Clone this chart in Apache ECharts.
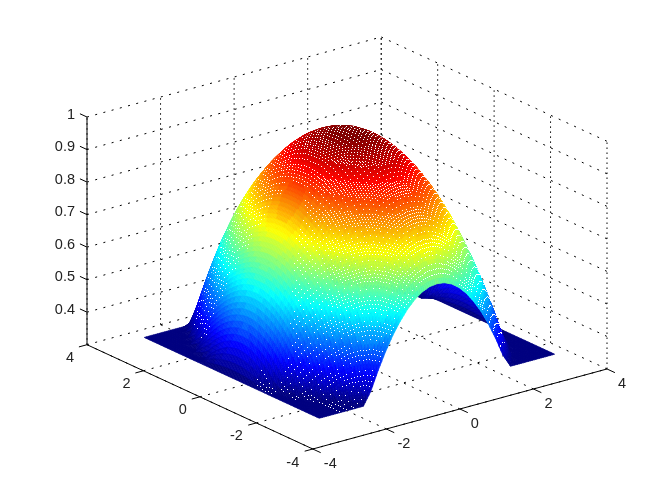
<!DOCTYPE html>
<html><head><meta charset="utf-8"><style>html,body{margin:0;background:#fff}#c{width:672px;height:504px}</style>
<script src="https://cdn.jsdelivr.net/npm/echarts@6/dist/echarts.min.js"></script></head><body><div id="c"></div>
<script>
var xTicks=[-4,-2,0,2,4], yTicks=[-4,-2,0,2,4], zTicks=[0.4,0.5,0.6,0.7,0.8,0.9,1];
var xs=[-2.75,-2.55,-2.35,-2.15,-1.95,-1.75,-1.55,-1.35,-1.15,-0.95,-0.75,-0.55,-0.35,-0.15,0.05,0.25,0.45,0.65,0.85,1.05,1.25,1.45,1.65,1.85,2.05,2.25,2.45,2.65,2.85,3.05,3.25,3.45,3.65];
var ys=[-2.6,-2.406,-2.213,-2.019,-1.825,-1.631,-1.438,-1.244,-1.05,-0.856,-0.663,-0.469,-0.275,-0.081,0.113,0.306,0.5,0.694,0.888,1.081,1.275,1.469,1.663,1.856,2.05,2.244,2.438,2.631,2.825,3.019,3.213,3.406,3.6];
// surface heights in thousandths, one row per ys value, one column per xs value
var zRows=[
[300,300,300,300,300,300,300,339,397,448,493,530,561,585,602,612,615,612,602,585,561,530,493,448,397,339,300,300,300,300,300,300,300],
[300,300,300,300,300,300,336,399,456,505,549,585,615,638,655,665,668,665,655,638,615,585,549,505,456,399,336,300,300,300,300,300,300],
[300,300,300,300,300,324,391,452,507,556,597,633,662,684,700,710,713,710,700,684,662,633,597,556,507,452,391,324,300,300,300,300,300],
[300,300,300,300,301,373,438,498,551,598,639,673,702,724,739,749,752,749,739,724,702,673,639,598,551,498,438,373,301,300,300,300,300],
[300,300,300,300,344,414,478,536,588,634,674,707,735,756,771,781,784,781,771,756,735,707,674,634,588,536,478,414,344,300,300,300,300],
[300,300,300,309,383,452,514,571,621,666,705,738,764,785,800,809,812,809,800,785,764,738,705,666,621,571,514,452,383,309,300,300,300],
[300,300,300,346,419,486,547,602,652,695,733,765,792,812,826,835,838,835,826,812,792,765,733,695,652,602,547,486,419,346,300,300,300],
[300,300,303,380,451,517,577,631,679,722,759,790,816,836,850,859,862,859,850,836,816,790,759,722,679,631,577,517,451,380,303,300,300],
[300,300,335,410,480,545,603,656,704,746,782,813,838,858,872,880,883,880,872,858,838,813,782,746,704,656,603,545,480,410,335,300,300],
[300,300,363,437,506,569,627,679,726,767,802,833,857,877,890,899,901,899,890,877,857,833,802,767,726,679,627,569,506,437,363,300,300],
[300,309,387,460,528,590,647,698,744,785,820,850,874,893,907,915,917,915,907,893,874,850,820,785,744,698,647,590,528,460,387,309,300],
[300,331,408,480,547,608,664,715,760,800,835,864,888,907,920,928,931,928,920,907,888,864,835,800,760,715,664,608,547,480,408,331,300],
[300,348,425,496,562,623,678,728,773,813,847,876,900,918,932,940,942,940,932,918,900,876,847,813,773,728,678,623,562,496,425,348,300],
[300,362,438,509,574,634,689,739,783,823,857,885,909,927,940,948,951,948,940,927,909,885,857,823,783,739,689,634,574,509,438,362,300],
[300,372,447,517,583,642,697,746,791,830,863,892,915,934,947,954,957,954,947,934,915,892,863,830,791,746,697,642,583,517,447,372,300],
[300,378,453,523,588,647,702,751,795,834,867,896,919,937,950,958,961,958,950,937,919,896,867,834,795,751,702,647,588,523,453,378,300],
[300,380,455,525,589,649,703,752,796,835,869,897,921,939,952,959,962,959,952,939,921,897,869,835,796,752,703,649,589,525,455,380,300],
[300,378,453,523,588,647,702,751,795,834,867,896,919,937,950,958,961,958,950,937,919,896,867,834,795,751,702,647,588,523,453,378,300],
[300,372,447,517,583,642,697,746,791,830,863,892,915,934,947,954,957,954,947,934,915,892,863,830,791,746,697,642,583,517,447,372,300],
[300,362,438,509,574,634,689,739,783,823,857,885,909,927,940,948,951,948,940,927,909,885,857,823,783,739,689,634,574,509,438,362,300],
[300,348,425,496,562,623,678,728,773,813,847,876,900,918,932,940,942,940,932,918,900,876,847,813,773,728,678,623,562,496,425,348,300],
[300,331,408,480,547,608,664,715,760,800,835,864,888,907,920,928,931,928,920,907,888,864,835,800,760,715,664,608,547,480,408,331,300],
[300,309,387,460,528,590,647,698,744,785,820,850,874,893,907,915,917,915,907,893,874,850,820,785,744,698,647,590,528,460,387,309,300],
[300,300,363,437,506,569,627,679,726,767,802,833,857,877,890,899,901,899,890,877,857,833,802,767,726,679,627,569,506,437,363,300,300],
[300,300,335,410,480,545,603,656,704,746,782,813,838,858,872,880,883,880,872,858,838,813,782,746,704,656,603,545,480,410,335,300,300],
[300,300,303,380,451,517,577,631,679,722,759,790,816,836,850,859,862,859,850,836,816,790,759,722,679,631,577,517,451,380,303,300,300],
[300,300,300,346,419,486,547,602,652,695,733,765,792,812,826,835,838,835,826,812,792,765,733,695,652,602,547,486,419,346,300,300,300],
[300,300,300,309,383,452,514,571,621,666,705,738,764,785,800,809,812,809,800,785,764,738,705,666,621,571,514,452,383,309,300,300,300],
[300,300,300,300,344,414,478,536,588,634,674,707,735,756,771,781,784,781,771,756,735,707,674,634,588,536,478,414,344,300,300,300,300],
[300,300,300,300,301,373,438,498,551,598,639,673,702,724,739,749,752,749,739,724,702,673,639,598,551,498,438,373,301,300,300,300,300],
[300,300,300,300,300,324,391,452,507,556,597,633,662,684,700,710,713,710,700,684,662,633,597,556,507,452,391,324,300,300,300,300,300],
[300,300,300,300,300,300,336,399,456,505,549,585,615,638,655,665,668,665,655,638,615,585,549,505,456,399,336,300,300,300,300,300,300],
[300,300,300,300,300,300,300,339,397,448,493,530,561,585,602,612,615,612,602,585,561,530,493,448,397,339,300,300,300,300,300,300,300]
];
var Z=zRows.map(function(r){return r.map(function(v){return v/1000;});});
var N=xs.length,i,j;
var az=37.5*Math.PI/180, el=Math.PI/6, zMin=0.3, zMax=1;
var ca=Math.cos(az), sa=Math.sin(az), se=Math.sin(el), ce=Math.cos(el);
function proj(x,y,z){var X=x/8,Y=y/8,W=(z-zMin)/(zMax-zMin);return [X*ca-Y*sa,(X*sa+Y*ca)*se+W*ce];}
var uMax=(ca+sa)/2, vMin=-uMax*se, vMax=uMax*se+ce;
function jet(t){function c(v){return Math.round(255*Math.max(0,Math.min(1,v)));}
 t=Math.floor(t*63.999)/63;return 'rgb('+c(1.5-Math.abs(4*t-3))+','+c(1.5-Math.abs(4*t-2))+','+c(1.5-Math.abs(4*t-1))+')';}
var cMin=Infinity,cMax=-Infinity;Z.forEach(function(r){r.forEach(function(v){cMin=Math.min(cMin,v);cMax=Math.max(cMax,v);});});
var M=4;
function cellItem(params,api){
 var i=api.value(0),j=api.value(1),ch=[],a,b;
 function P(a,b){var s=a/M,t=b/M,x=xs[i]+(xs[i+1]-xs[i])*s,y=ys[j]+(ys[j+1]-ys[j])*t;
  var z=(Z[j][i]*(1-s)+Z[j][i+1]*s)*(1-t)+(Z[j+1][i]*(1-s)+Z[j+1][i+1]*s)*t;return {z:z,p:api.coord(proj(x,y,z))};}
 for(b=M-1;b>=0;b--)for(a=M-1;a>=0;a--){
  var A=P(a,b),B=P(a+1,b),C=P(a+1,b+1),D=P(a,b+1),col=jet(((A.z+C.z)/2-cMin)/(cMax-cMin));
  ch.push({type:'polygon',shape:{points:[A.p,B.p,C.p,D.p]},style:{fill:col,stroke:col,lineWidth:.7}});
 }
 // the reference shows single white pixels through its mesh on the front-facing part of the surface
 var fx=Math.abs(Z[j][i+1]-Z[j][i]+Z[j+1][i+1]-Z[j+1][i])/2/(xs[i+1]-xs[i]);
 var fy=Math.abs(Z[j+1][i]-Z[j][i]+Z[j+1][i+1]-Z[j][i+1])/2/(ys[j+1]-ys[j]);
 var high=Math.max(Z[j][i],Z[j][i+1],Z[j+1][i],Z[j+1][i+1]),low=Math.min(Z[j][i],Z[j][i+1],Z[j+1][i],Z[j+1][i+1]);
 var ratio=fx/(fy+.1), flat=high<=zMin, floorDots=flat&&xs[i]>-2.5&&xs[i]<0&&ys[j]<1.9;
 var edge=low<=zMin&&(xs[i]>0.45||ys[j]>1.2);
 if(floorDots||(!flat&&!edge&&ratio<1.6)){
  var q0=P(0,0).p,q1=P(1,0).p,q2=P(0,1).p,area=Math.abs((q1[0]-q0[0])*(q2[1]-q0[1])-(q1[1]-q0[1])*(q2[0]-q0[0]));
  for(b=1;b<=M;b++)for(a=1;a<=M;a++){
   var ga=i*M+a,gb=j*M+b,S=P(a,b),odd=(ga+gb)%2;
   if(floorDots){if(ga%4||gb%2)continue;}
   else{
    if(area<2.5&&(ga%2||gb%2))continue;
    if(area>=2.5&&area<5&&odd)continue;
    if(ratio>1.15&&odd)continue;
    if(Math.floor(S.z/.035)%2&&(ga%2||gb%2))continue;
   }
   ch.push({type:'rect',shape:{x:Math.round(S.p[0]),y:Math.round(S.p[1]),width:1,height:1},style:{fill:'#fff'}});
  }
 }
 return {type:'group',children:ch};
}
var cells=[];for(j=N-2;j>=0;j--)for(i=N-2;i>=0;i--)cells.push([i,j]);
var dotted=[], solid=[], labels=[];
xTicks.forEach(function(x){dotted.push([x,4,zMin,x,4,zMax]);dotted.push([x,-4,zMin,x,4,zMin]);solid.push([x,-4,zMin,x,-4.28,zMin]);labels.push({t:String(x),a:[x,-4,zMin],dx:x<0?17.5:15,dy:15,al:'center'});});
yTicks.forEach(function(y){dotted.push([4,y,zMin,4,y,zMax]);dotted.push([-4,y,zMin,4,y,zMin]);solid.push([-4,y,zMin,-4.22,y,zMin]);labels.push({t:String(y),a:[-4,y,zMin],dx:y<0?-20:-17,dy:13.5,al:'center'});});
zTicks.forEach(function(z){dotted.push([-4,4,z,4,4,z]);dotted.push([4,4,z,4,-4,z]);solid.push([-4,4,z,-4,4.25,z]);labels.push({t:String(z),a:[-4,4,z],dx:-12,dy:-2.5,al:'right'});});
solid.push([-4,4,zMin,-4,4,zMax],[-4,4,zMin,-4,-4,zMin],[-4,-4,zMin,4,-4,zMin]);
function seg(color,dashFn){return function(params,api){var a=api.coord(proj(api.value(0),api.value(1),api.value(2))),b=api.coord(proj(api.value(3),api.value(4),api.value(5)));
 return {type:'line',shape:{x1:a[0],y1:a[1],x2:b[0],y2:b[1]},style:{stroke:color,lineWidth:1,lineDash:dashFn?dashFn(a,b):null}};};}
var chart=echarts.init(document.getElementById('c'),null,{renderer:'canvas'});
chart.setOption({animation:false,backgroundColor:'#fff',
 grid:{left:87,top:37,width:520,height:412},
 xAxis:{type:'value',min:-uMax,max:uMax,show:false},yAxis:{type:'value',min:vMin,max:vMax,show:false},
 series:[
 {type:'custom',coordinateSystem:'cartesian2d',silent:true,clip:false,z:1,data:dotted,renderItem:seg('#000',function(a,b){return Math.abs(a[0]-b[0])<1?[1.5,3.5]:[2,6.5];}),encode:{x:0,y:1}},
 {type:'custom',coordinateSystem:'cartesian2d',silent:true,clip:false,z:2,progressive:0,data:cells,renderItem:cellItem,encode:{x:0,y:1}},
 {type:'custom',coordinateSystem:'cartesian2d',silent:true,clip:false,z:3,data:solid,renderItem:seg('#000'),encode:{x:0,y:1}},
 {type:'custom',coordinateSystem:'cartesian2d',silent:true,clip:false,z:4,data:labels.map(function(l){return [l.a[0],l.a[1],l.a[2],l.dx,l.dy,l.al=='right'?1:0,l.t];}),
  renderItem:function(params,api){var l=labels[params.dataIndex],p=api.coord(proj(l.a[0],l.a[1],l.a[2]));
   return {type:'text',x:p[0]+l.dx,y:p[1]+l.dy,style:{text:l.t,fill:'#222',fontFamily:'Liberation Sans',fontSize:14.5,align:l.al,verticalAlign:'middle'}};},encode:{x:0,y:1}}
 ]});
</script></body></html>
